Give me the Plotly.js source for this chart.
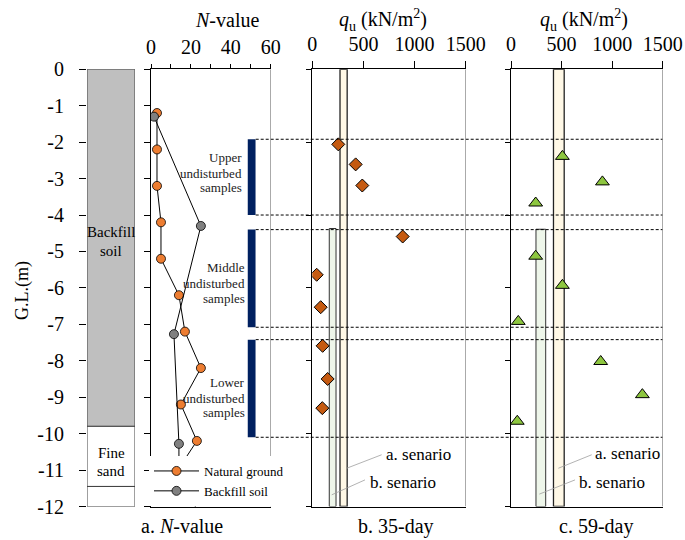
<!DOCTYPE html>
<html>
<head>
<meta charset="utf-8">
<script src="https://cdn.plot.ly/plotly-3.0.1.min.js"></script>
<style>html,body{margin:0;padding:0;background:#fff;}#chart{width:685px;height:540px;}</style>
</head>
<body>
<div id="chart"></div>
<script>
// ---------------- data ----------------
const depthTicks = [0,-1,-2,-3,-4,-5,-6,-7,-8,-9,-10,-11,-12];
const depthTickText = ['0','-1','-2','-3','-4','-5','-6','-7','-8','-9','-10','-11','-12'];

const soilTop = [0, -9.8, -11.45];
const soilBottom = [-9.8, -11.45, -12];
const soilColors = ['#BFBFBF', '#FFFFFF', '#FFFFFF'];

const natDepth = [-1.2,-2.2,-3.2,-4.2,-5.2,-6.2,-7.2,-8.2,-9.2,-10.2,-11.2,-12.2];
const natN     = [3, 3, 3, 5, 5, 14, 17, 25, 15, 23, 11, 25];
const bfDepth  = [-1.3,-4.3,-7.27,-10.28,-11.3];
const bfN      = [1.5, 25, 11.5, 14, 14];

const nTickVals = [0,20,40,60];
const qTickVals = [0,500,1000,1500];

const sampleTop    = [-1.92, -4.4, -7.42];
const sampleBottom = [-4.0, -7.08, -10.1];
const sampleN = 50.45, sampleWidth = 3.9;

const q35     = [254, 424, 489, 884, 43, 82, 101, 150, 98];
const depth35 = [-2.06,-2.61,-3.19,-4.59,-5.64,-6.53,-7.59,-8.5,-9.3];
const q59     = [508, 904, 244, 244, 508, 72, 887, 1299, 62];
const depth59 = [-2.39,-3.09,-3.67,-5.13,-5.93,-6.92,-8.02,-8.93,-9.66];

// scenario bars [center q, width q, top depth]
const scen35 = {a:[306, 70, 0], b:[199, 66, -4.37]};
const scen59 = {a:[473, 106, 0], b:[295, 96, -4.39]};

// ---------------- layout helpers ----------------
const W = 685, H = 540;
const px = p => p / W;
const py = p => 1 - p / H;
const yDom = [py(506.5), py(69.3)];
const FONT = '"Liberation Serif", "Times New Roman", Times, serif';

const traces = [];
// soil column
traces.push({type:'bar', x:soilTop.map(()=>0.5), base:soilBottom, y:soilTop.map((t,i)=>t-soilBottom[i]),
  width:1, marker:{color:soilColors, line:{color:'#404040', width:1}}, xaxis:'x', yaxis:'y',
  showlegend:false, hoverinfo:'skip'});
// sample bars
traces.push({type:'bar', x:sampleTop.map(()=>sampleN), base:sampleBottom, y:sampleTop.map((t,i)=>t-sampleBottom[i]),
  width:sampleWidth, marker:{color:'#002060', line:{width:0}}, xaxis:'x2', yaxis:'y2', showlegend:false, hoverinfo:'skip'});
// N-value
traces.push({type:'scatter', mode:'lines+markers', name:'Natural ground', x:natN, y:natDepth,
  line:{color:'#000', width:1}, marker:{color:'#ED7D31', size:9, line:{color:'#000', width:0.8}},
  xaxis:'x2', yaxis:'y2', cliponaxis:true});
traces.push({type:'scatter', mode:'lines+markers', name:'Backfill soil', x:bfN, y:bfDepth,
  line:{color:'#000', width:1}, marker:{color:'#808080', size:9, line:{color:'#000', width:0.8}},
  xaxis:'x2', yaxis:'y2', cliponaxis:true});
// scenario bars
function scenBars(s, xa, ya){
  traces.push({type:'bar', x:[s.a[0]], width:[s.a[1]], base:[-12], y:[s.a[2]+12],
    marker:{color:'#FFF8E6', line:{color:'#222', width:1.3}}, xaxis:xa, yaxis:ya, showlegend:false, hoverinfo:'skip'});
  traces.push({type:'bar', x:[s.b[0]], width:[s.b[1]], base:[-12], y:[s.b[2]+12],
    marker:{color:'#EEF6EA', line:{color:'#333', width:1}}, xaxis:xa, yaxis:ya, showlegend:false, hoverinfo:'skip'});
}
scenBars(scen35, 'x3', 'y3');
scenBars(scen59, 'x4', 'y4');
traces.push({type:'scatter', mode:'markers', x:q35, y:depth35, xaxis:'x3', yaxis:'y3', showlegend:false,
  marker:{symbol:'diamond', size:10, color:'#C55A11', line:{color:'#000', width:1}}});
traces.push({type:'scatter', mode:'markers', x:q59, y:depth59, xaxis:'x4', yaxis:'y4', showlegend:false,
  marker:{symbol:'triangle-up', size:12, color:'#8DC63F', line:{color:'#000', width:1}}});

function yPanel(anchor, dtick, len){
  return {domain:yDom, range:[-12,0], anchor:anchor, showticklabels:false, ticks:'outside', ticklen:len,
    tickcolor:'#000', dtick:dtick, tick0:0, showline:true, linecolor:'#000', linewidth:1,
    zeroline:false, showgrid:false, fixedrange:true};
}
function xPanel(anchor, d0, d1, range, tv, len, minorDtick){
  const ax = {domain:[px(d0), px(d1)], range:range, anchor:anchor, side:'top', tickvals:tv,
    ticktext:tv.map(String), ticks:'outside', ticklen:len, tickcolor:'#000', showline:true, mirror:true,
    linecolor:'#000', linewidth:1, zeroline:false, showgrid:false, tickfont:{family:FONT, size:20, color:'#000'},
    fixedrange:true, ticklabelstandoff:2};
  if (minorDtick) ax.minor = {dtick:minorDtick, tick0:0, ticks:'outside', ticklen:len, tickcolor:'#000', showgrid:false};
  return ax;
}

const shapes = [];
// dashed sample boundaries
sampleTop.concat(sampleBottom).forEach(d => shapes.push({type:'line', xref:'paper', yref:'y',
  x0:px(255.7), x1:px(662.7), y0:d, y1:d, line:{color:'#000', width:1, dash:'3px,2px'}}));
// gray right borders
[['x2',60,'y2'],['x3',1500,'y3'],['x4',1500,'y4']].forEach(a => shapes.push({type:'line', xref:a[0], yref:a[2],
  x0:a[1], x1:a[1], y0:-12, y1:0, line:{color:'#808080', width:1.3}}));
// leader lines
function leaders(xa, ya, la, lb){
  shapes.push({type:'line', xref:xa, yref:ya, x0:la[0], y0:la[1], x1:la[2], y1:la[3], line:{color:'#A0A0A0', width:0.8}});
  shapes.push({type:'line', xref:xa, yref:ya, x0:lb[0], y0:lb[1], x1:lb[2], y1:lb[3], line:{color:'#A0A0A0', width:0.8}});
}
leaders('x3','y3',[336,-10.95,678,-10.58],[190,-11.68,515,-11.27]);
leaders('x4','y4',[468,-10.95,798,-10.58],[280,-11.66,633,-11.27]);

const ann = [];
function A(text, x, y, size, opt){
  ann.push(Object.assign({text:text, x:px(x), y:py(y), xref:'paper', yref:'paper', showarrow:false,
    font:{family:FONT, size:size, color:'#000'}, xanchor:'center', yanchor:'middle'}, opt||{}));
}
A('<i>N</i>-value', 227, 20, 20);
A('<i>q</i><sub>u</sub> (kN/m<sup>2</sup>)', 383, 20, 20);
A('<i>q</i><sub>u</sub> (kN/m<sup>2</sup>)', 584, 20, 20);
A('a. <i>N</i>-value', 182, 526, 20);
A('b. 35-day', 396, 526, 20);
A('c. 59-day', 596, 526, 20);
A('G.L.(m)', 22, 291, 18, {textangle:-90});
A('Backfill', 111, 232, 15); A('soil', 111, 251, 15);
A('Fine', 111, 453, 15); A('sand', 111, 471, 15);
const sg = {xanchor:'right', font:{family:FONT, size:13, color:'#222'}};
[['Upper',158],['undisturbed',173],['samples',188]].forEach(t=>A(t[0],244,t[1],13,sg));
[['Middle',267],['undisturbed',283],['samples',298]].forEach(t=>A(t[0],247,t[1],13,sg));
[['Lower',382],['undisturbed',398],['samples',412]].forEach(t=>A(t[0],247,t[1],13,sg));
A('a. senario', 384, 454, 17, {xanchor:'left'});
A('b. senario', 368, 482, 17, {xanchor:'left'});
A('a. senario', 593, 453, 17, {xanchor:'left'});
A('b. senario', 577, 482, 17, {xanchor:'left'});

const layout = {
  width:W, height:H, margin:{l:0,r:0,t:0,b:0}, paper_bgcolor:'#fff', plot_bgcolor:'rgba(0,0,0,0)',
  barmode:'overlay', font:{family:FONT, color:'#000'},
  xaxis:{domain:[px(87), px(135)], range:[0,1], anchor:'y', visible:false, fixedrange:true},
  yaxis:{domain:yDom, range:[-12,0], anchor:'x', tickvals:depthTicks, ticktext:depthTickText, ticks:'outside',
    ticklen:7, tickcolor:'#000', showline:false, zeroline:false, showgrid:false,
    tickfont:{family:FONT, size:20, color:'#000'}, ticklabelstandoff:11, fixedrange:true},
  xaxis2:xPanel('y2', 151, 270.7, [0,60], nTickVals, 4, 10),
  yaxis2:yPanel('x2', 1, 6),
  xaxis3:xPanel('y3', 312.3, 465.7, [0,1500], qTickVals, 7, 0),
  yaxis3:yPanel('x3', 2, 5),
  xaxis4:xPanel('y4', 511, 662.7, [0,1500], qTickVals, 7, 0),
  yaxis4:yPanel('x4', 2, 5),
  showlegend:true,
  legend:{x:px(149), y:py(456), xanchor:'left', yanchor:'top', bgcolor:'#fff', borderwidth:0,
    font:{family:FONT, size:13, color:'#000'}, tracegroupgap:0, itemwidth:45},
  shapes:shapes, annotations:ann
};
Plotly.newPlot('chart', traces, layout, {displayModeBar:false, staticPlot:true});
</script>
</body>
</html>
